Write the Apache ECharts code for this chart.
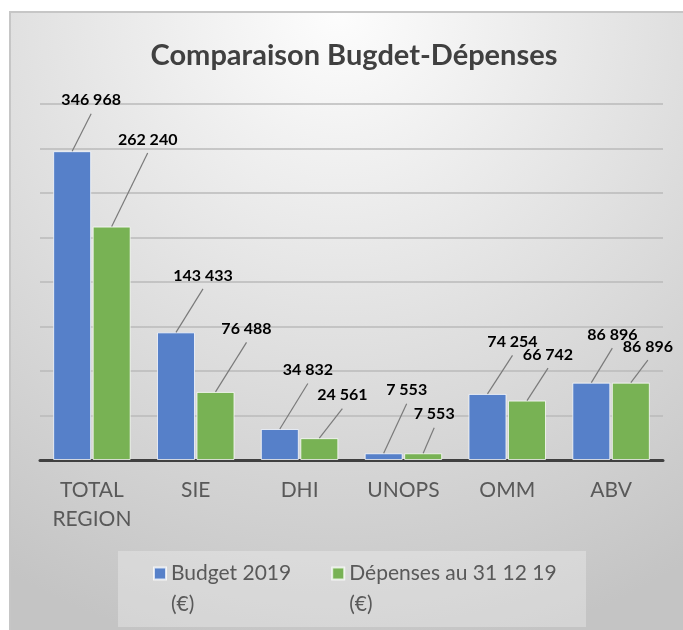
<!DOCTYPE html>
<html>
<head>
<meta charset="utf-8">
<script src="https://cdn.jsdelivr.net/npm/echarts@6/dist/echarts.min.js"></script>
<style>
  html, body { margin: 0; padding: 0; background: #ffffff; }
  #chart { width: 683px; height: 630px; }
</style>
</head>
<body>
<div id="chart"></div>
<script>
// ---- data ----
const categories = ['TOTAL REGION', 'SIE', 'DHI', 'UNOPS', 'OMM', 'ABV'];
const budget2019 = [346968, 143433, 34832, 7553, 74254, 86896];
const depenses311219 = [262240, 76488, 24561, 7553, 66742, 86896];
const seriesNames = ['Budget 2019 (€)', 'Dépenses au 31 12 19 (€)'];
const titleText = 'Comparaison Bugdet-Dépenses';

// label offsets (moved data labels, as in the reference)
const budgetLabelDx = [19, 27, 28, 23, 25, 21];
const budgetLabelDy = [-38, -44, -46, -50, -39, -35];
const depensesLabelDx = [36, 31, 23, 11, 21, 17];
const depensesLabelDy = [-74, -50, -30, -26, -33, -23];

const FONT = 'Lato, "Open Sans", sans-serif';
const fmt = v => String(v).replace(/\B(?=(\d{3})+(?!\d))/g, ' ');
const BAR_W = 38;
const BAR_GAP = 0.04;
const LABEL_HALF = 14.5; // label centre above bar top with position 'top'

const chart = echarts.init(document.getElementById('chart'), null, { renderer: 'canvas' });

function barSeries(name, data, color, dxs, dys) {
  return {
    name: name,
    type: 'bar',
    data: data,
    barWidth: BAR_W,
    barGap: (BAR_GAP * 100) + '%',
    itemStyle: { color: color, borderColor: 'rgba(255,255,255,0.75)', borderWidth: 1 },
    label: {
      show: true,
      position: 'top',
      distance: 5,
      formatter: p => fmt(p.value),
      fontFamily: FONT,
      fontWeight: 'bold',
      fontSize: 16,
      color: '#000000'
    },
    labelLayout: p => ({ dx: dxs[p.dataIndex], dy: dys[p.dataIndex], hideOverlap: false })
  };
}

// leader lines from bar top to moved label
function leaderSeries(data, side, dxs, dys) {
  const half = (BAR_W * (1 + BAR_GAP)) / 2;
  return {
    type: 'custom',
    silent: true,
    z: 3,
    data: data.map((v, i) => [i, v]),
    renderItem: (params, api) => {
      const i = api.value(0);
      const p = api.coord([i, api.value(1)]);
      const x0 = p[0] + side * half;
      const y0 = p[1];
      const x1 = x0 + dxs[i];
      const y1 = y0 - LABEL_HALF + dys[i] + 15;
      return {
        type: 'line',
        shape: { x1: x0, y1: y0, x2: x1, y2: y1 },
        style: { stroke: '#7a7a7a', lineWidth: 1.2 }
      };
    }
  };
}

const option = {
  animation: false,
  textStyle: { fontFamily: FONT },
  graphic: [
    {
      type: 'rect',
      z: -10,
      silent: true,
      shape: { x: 10, y: 12, width: 700, height: 650 },
      style: {
        fill: new echarts.graphic.RadialGradient(0.47, 0.0, 1.0, [
          { offset: 0, color: '#fdfdfd' },
          { offset: 1, color: '#c4c4c4' }
        ]),
        stroke: '#c6c6c6',
        lineWidth: 2
      }
    },
    {
      type: 'rect',
      z: -5,
      silent: true,
      shape: { x: 118, y: 551, width: 468, height: 76 },
      style: { fill: 'rgba(255,255,255,0.28)' }
    }
  ],
  title: {
    text: titleText,
    left: 349,
    top: 36,
    textAlign: 'center',
    textStyle: { fontFamily: FONT, fontSize: 29, fontWeight: 'bold', color: '#404040' }
  },
  legend: {
    data: seriesNames,
    left: 153,
    top: 527,
    padding: 0,
    icon: 'rect',
    itemWidth: 12,
    itemHeight: 12,
    itemGap: 40,
    formatter: n => '\n' + n.replace(' (€)', '\n(€)'),
    textStyle: { fontFamily: FONT, fontSize: 21, color: '#595959', lineHeight: 31 }
  },
  grid: { left: 40, right: 20, top: 104, bottom: 170 },
  xAxis: {
    type: 'category',
    data: categories,
    axisTick: { show: false },
    axisLine: { lineStyle: { color: '#404040', width: 3 } },
    axisLabel: {
      color: '#595959',
      fontFamily: FONT,
      fontSize: 21,
      lineHeight: 29,
      margin: 16,
      formatter: v => v.replace(' ', '\n')
    }
  },
  yAxis: {
    type: 'value',
    min: 0,
    max: 400000,
    interval: 50000,
    axisLabel: { show: false },
    axisLine: { show: false },
    axisTick: { show: false },
    splitLine: { lineStyle: { color: '#bababa', width: 1.5 } }
  },
  series: [
    barSeries(seriesNames[0], budget2019, '#5680c9', budgetLabelDx, budgetLabelDy),
    barSeries(seriesNames[1], depenses311219, '#78b254', depensesLabelDx, depensesLabelDy),
    leaderSeries(budget2019, -1, budgetLabelDx, budgetLabelDy),
    leaderSeries(depenses311219, 1, depensesLabelDx, depensesLabelDy)
  ]
};

chart.setOption(option);
</script>
</body>
</html>
